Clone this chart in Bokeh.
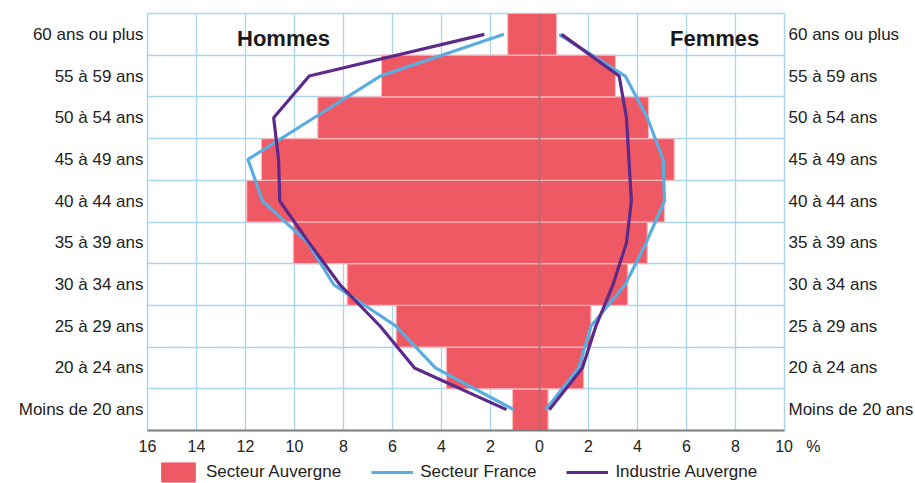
from bokeh.plotting import figure
from bokeh.layouts import column
from bokeh.models import (Range1d, FixedTicker, LinearAxis, Label, Span, Legend, LegendItem,
                          ColumnDataSource)
from bokeh.embed import file_html
from bokeh.resources import INLINE

# ---- data ----
categories = ["Moins de 20 ans", "20 à 24 ans", "25 à 29 ans", "30 à 34 ans", "35 à 39 ans",
              "40 à 44 ans", "45 à 49 ans", "50 à 54 ans", "55 à 59 ans", "60 ans ou plus"]
auv_hommes = [1.1, 3.8, 5.85, 7.85, 10.05, 11.95, 11.35, 9.05, 6.45, 1.3]
auv_femmes = [0.35, 1.8, 2.1, 3.6, 4.4, 5.1, 5.5, 4.45, 3.1, 0.7]
france_hommes = [1.05, 4.25, 5.85, 8.4, 9.45, 11.3, 11.9, 9.2, 6.5, 1.45]
france_femmes = [0.25, 1.6, 2.1, 3.5, 4.35, 5.1, 5.05, 4.4, 3.5, 0.8]
ind_hommes = [1.35, 5.1, 6.5, 8.15, 9.4, 10.6, 10.65, 10.85, 9.4, 2.25]
ind_femmes = [0.4, 1.75, 2.3, 3.0, 3.55, 3.75, 3.65, 3.55, 3.25, 0.9]
x_ticks = [-16, -14, -12, -10, -8, -6, -4, -2, 0, 2, 4, 6, 8, 10]
x_labels = ["16", "14", "12", "10", "8", "6", "4", "2", "0", "2", "4", "6", "8",
            "\u2007\u2007\u200710\u2007\u2008%"]
series_names = ["Secteur Auvergne", "Secteur France", "Industrie Auvergne"]

FONT = "Liberation Sans"
RED = "#ef5963"
BLUE = "#5aade0"
PURPLE = "#5d2a8b"
GRID = "#a9d5f0"
GRAY = "#808080"

rows = [i + 0.5 for i in range(len(categories))]
bar_src = dict(y=rows, left=[-v for v in auv_hommes], right=auv_femmes)

p = figure(frame_width=637, frame_height=417, output_backend="svg", toolbar_location=None,
           x_range=Range1d(-16, 10), y_range=Range1d(0, 10),
           min_border_left=147, min_border_right=132, min_border_top=13, min_border_bottom=30)
p.background_fill_color = "white"
p.border_fill_color = "white"
p.outline_line_color = GRID
p.outline_line_width = 1.5

# bars
p.hbar(y="y", left="left", right="right", height=1.0, source=ColumnDataSource(bar_src),
       fill_color=RED, line_color="#f8b9bd", line_width=1.2)

# zero line
p.add_layout(Span(location=0, dimension="height", line_color=GRAY, line_width=1.5))

# lines
p.line([-v for v in france_hommes], rows, line_color=BLUE, line_width=3.2)
p.line(france_femmes, rows, line_color=BLUE, line_width=3.2)
p.line([-v for v in ind_hommes], rows, line_color=PURPLE, line_width=3.2)
p.line(ind_femmes, rows, line_color=PURPLE, line_width=3.2)

# grids
p.xgrid.ticker = FixedTicker(ticks=x_ticks)
p.ygrid.ticker = FixedTicker(ticks=list(range(11)))
for g in (p.xgrid, p.ygrid):
    g.grid_line_color = GRID
    g.grid_line_width = 1.3

# x axis
xa = p.xaxis[0]
xa.ticker = FixedTicker(ticks=x_ticks)
xa.major_label_overrides = {t: l for t, l in zip(x_ticks, x_labels)}
xa.axis_line_color = GRAY
xa.axis_line_width = 2
xa.major_tick_line_color = None
xa.minor_tick_line_color = None
xa.major_tick_out = 0
xa.major_tick_in = 0
xa.major_label_standoff = 7
xa.major_label_text_font = FONT
xa.major_label_text_font_size = "16px"
xa.major_label_text_color = "#222222"

# y axes (labels on both sides)
overrides = {r: c for r, c in zip(rows, categories)}
ya = p.yaxis[0]
yr = LinearAxis()
p.add_layout(yr, "right")
for ax in (ya, yr):
    ax.ticker = FixedTicker(ticks=rows)
    ax.major_label_overrides = overrides
    ax.axis_line_color = None
    ax.major_tick_line_color = None
    ax.minor_tick_line_color = None
    ax.major_tick_out = 0
    ax.major_label_standoff = 4
    ax.major_label_text_font = FONT
    ax.major_label_text_font_size = "17px"
    ax.major_label_text_color = "#222222"

# titles
p.add_layout(Label(x=-10.45, y=9.41, text="Hommes", text_align="center", text_baseline="middle",
                   text_font=FONT, text_font_style="bold", text_font_size="22px",
                   text_color="#1a1a1a"))
p.add_layout(Label(x=7.15, y=9.41, text="Femmes", text_align="center", text_baseline="middle",
                   text_font=FONT, text_font_style="bold", text_font_size="22px",
                   text_color="#1a1a1a"))

# ---- legend strip (separate small figure below the chart) ----
# Its ranges lie far away from the data, so its renderers only serve the legend.
lg = figure(width=915, height=28, output_backend="svg", toolbar_location=None,
            x_range=Range1d(100, 101), y_range=Range1d(100, 101),
            x_axis_location=None, y_axis_location=None,
            min_border_left=0, min_border_right=0, min_border_top=0, min_border_bottom=0)
lg.grid.visible = False
lg.outline_line_color = None
lg.background_fill_color = "white"
lg.border_fill_color = "white"
r_bar = lg.hbar(y="y", left="left", right="right", height=1.0, source=ColumnDataSource(bar_src),
                fill_color=RED, line_color=RED)
r_fr = lg.line([-v for v in france_hommes], rows, line_color=BLUE, line_width=3.2)
r_ind = lg.line([-v for v in ind_hommes], rows, line_color=PURPLE, line_width=3.2)
legend = Legend(items=[LegendItem(label=series_names[0], renderers=[r_bar]),
                       LegendItem(label=series_names[1], renderers=[r_fr]),
                       LegendItem(label=series_names[2], renderers=[r_ind])],
                orientation="horizontal", location=(10, 4),
                glyph_width=42, glyph_height=24, label_standoff=7, spacing=30,
                padding=0, margin=0, border_line_color=None, background_fill_alpha=0,
                label_text_font=FONT, label_text_font_size="17px", label_text_color="#222222")
lg.add_layout(legend, "center")

layout = column(p, lg, spacing=0)
open("out.html", "w").write(file_html(layout, INLINE))
